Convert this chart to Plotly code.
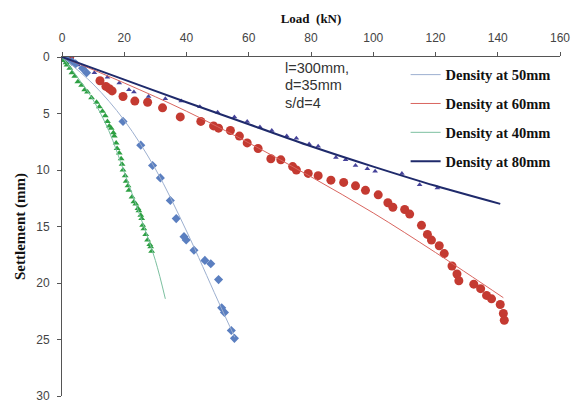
import plotly.graph_objects as go

# ---- measured points: load (kN) vs settlement (mm) ----
load_50 = [0.6, 1.9, 3.2, 4.4, 6.6, 7.9, 19.6, 25.3, 29.1, 31.6, 34.8, 36.7, 39.2, 39.9,
           42.4, 45.9, 47.8, 50.3, 51.3, 52.2, 54.4, 55.4]
sett_50 = [0.1, 0.3, 0.4, 0.6, 1.0, 1.4, 5.7, 7.8, 9.6, 10.7, 12.7, 14.3, 15.9, 16.2,
           17.1, 18.0, 18.3, 19.7, 22.2, 22.6, 24.2, 24.9]

load_60 = [0.0, 1.3, 2.5, 12.2, 14.1, 15.2, 16.1, 19.6, 23.4, 27.5, 32.3, 38.0, 44.6, 48.7,
           50.3, 54.1, 57.0, 59.5, 63.0, 67.1, 70.3, 74.1, 75.3, 79.1, 82.3, 86.4, 90.5,
           94.3, 97.5, 101.6, 104.7, 106.3, 110.1, 111.7, 115.5, 117.4, 118.7, 121.2, 122.8,
           125.3, 126.9, 127.5, 132.3, 134.5, 136.4, 138.0, 140.8, 141.8, 142.1]
sett_60 = [0.0, 0.0, 0.0, 2.1, 2.6, 2.8, 3.0, 3.5, 3.9, 4.0, 4.5, 5.3, 5.7, 6.1,
           6.3, 6.5, 7.0, 7.6, 8.1, 9.0, 9.1, 9.7, 10.0, 10.3, 10.5, 10.9, 11.1,
           11.4, 11.8, 12.2, 12.9, 13.3, 13.5, 13.9, 14.9, 15.7, 16.2, 16.7, 17.4,
           18.5, 19.2, 19.8, 20.1, 20.5, 21.1, 21.4, 21.9, 22.7, 23.3]

load_40 = [0.0, 0.6, 1.3, 1.6, 2.5, 3.2, 4.1, 5.1, 6.3, 7.3, 8.2, 9.5, 11.1, 12.0, 13.0,
           13.9, 14.6, 15.2, 15.8, 16.5, 16.8, 17.4, 17.7, 18.4, 19.0, 19.3, 19.6, 20.3,
           20.6, 21.2, 21.5, 22.5, 23.1, 23.7, 24.4, 24.7, 25.3, 25.6, 25.9, 26.3, 26.9,
           27.5, 28.2, 28.5, 28.8]
sett_40 = [0.0, 0.3, 0.5, 0.7, 1.0, 1.4, 1.7, 2.2, 2.5, 2.9, 3.1, 3.6, 4.0, 4.4, 4.8,
           5.2, 5.7, 6.1, 6.3, 6.7, 7.0, 7.6, 8.1, 8.5, 9.0, 9.5, 10.0, 10.5,
           11.0, 11.4, 11.8, 12.4, 12.8, 13.0, 13.4, 13.6, 14.0, 14.3, 14.9, 15.2, 15.7,
           16.2, 16.6, 16.8, 17.2]

load_80 = [0.0, 1.3, 3.2, 5.1, 6.6, 10.4, 14.6, 18.4, 21.5, 23.1, 27.8, 33.2, 38.3, 44.3,
           50.0, 55.4, 59.5, 63.6, 67.4, 72.2, 75.3, 79.4, 82.3, 88.0, 91.1, 94.3, 98.1,
           100.6, 109.2, 114.9, 120.6]
sett_80 = [0.0, 0.2, 0.4, 0.7, 1.0, 1.4, 1.8, 2.3, 2.9, 3.1, 3.5, 3.7, 3.9, 4.4,
           4.9, 5.3, 5.7, 6.2, 6.5, 7.0, 7.2, 7.7, 7.9, 8.9, 9.1, 9.6, 9.9,
           10.1, 10.3, 11.3, 11.6]

# ---- fitted trend curves ----
fit_load_50 = [0, 10, 20, 30, 40, 50, 55.5]
fit_sett_50 = [0, 2.4, 5.6, 9.9, 15.4, 21.5, 24.8]

fit_load_60 = [0, 20, 40, 60, 80, 100, 120, 141.8]
fit_sett_60 = [0, 2.3, 4.8, 7.6, 10.6, 13.8, 17.3, 21.3]

fit_load_40 = [0, 5, 10, 15, 20, 25, 30, 33.2]
fit_sett_40 = [0, 1.8, 3.8, 6.5, 10.2, 14.0, 18.0, 21.4]

fit_load_80 = [0, 20, 40, 60, 80, 100, 120, 140.8]
fit_sett_80 = [0, 2.0, 4.0, 5.95, 7.9, 9.7, 11.4, 13.0]

x_ticks = [0, 20, 40, 60, 80, 100, 120, 140, 160]
y_ticks = [0, 5, 10, 15, 20, 25, 30]

fig = go.Figure()

# measured points (not in legend)
fig.add_trace(go.Scatter(x=load_60, y=sett_60, mode="markers", showlegend=False,
                         marker=dict(symbol="circle", size=9, color="#C43A31")))
fig.add_trace(go.Scatter(x=load_80, y=sett_80, mode="markers", showlegend=False,
                         marker=dict(symbol="triangle-up", size=5, color="#46439A")))
fig.add_trace(go.Scatter(x=load_50, y=sett_50, mode="markers", showlegend=False,
                         marker=dict(symbol="diamond", size=7, color="#5B7FC0")))
fig.add_trace(go.Scatter(x=load_40, y=sett_40, mode="markers", showlegend=False,
                         marker=dict(symbol="triangle-up", size=6, color="#2EA043")))

# trend curves (legend entries)
fig.add_trace(go.Scatter(x=fit_load_50, y=fit_sett_50, mode="lines", name="Density at 50mm",
                         legendgroup="g1", line=dict(color="#9DB0D0", width=1, shape="spline")))
fig.add_trace(go.Scatter(x=fit_load_60, y=fit_sett_60, mode="lines", name="Density at 60mm",
                         legendgroup="g2", line=dict(color="#D9655F", width=1, shape="spline")))
fig.add_trace(go.Scatter(x=fit_load_40, y=fit_sett_40, mode="lines", name="Density at 40mm",
                         legendgroup="g3", line=dict(color="#7CC0A0", width=1, shape="spline")))
fig.add_trace(go.Scatter(x=fit_load_80, y=fit_sett_80, mode="lines", name="Density at 80mm",
                         legendgroup="g4", line=dict(color="#1F2A6B", width=2, shape="spline")))

# pile parameters
for txt, yy in [("l=300mm,", 0.95), ("d=35mm", 2.5), ("s/d=4", 4.05)]:
    fig.add_annotation(x=71, y=yy, xref="x", yref="y", text=txt, showarrow=False,
                       xanchor="left", yanchor="middle",
                       font=dict(family="Liberation Sans", size=14.5, color="#333333"))

fig.update_layout(
    width=582, height=415,
    margin=dict(l=62, r=16, t=57, b=13),
    paper_bgcolor="white", plot_bgcolor="white",
    font=dict(family="Liberation Sans", size=12, color="#444444"),
    legend=dict(x=0.69, y=0.995, xanchor="left", yanchor="top",
                traceorder="grouped", tracegroupgap=7,
                bgcolor="rgba(0,0,0,0)",
                font=dict(family="Liberation Serif", size=14.5, color="#111111", weight="bold")),
    xaxis=dict(range=[0, 160], side="top", tickvals=x_ticks, showgrid=False, zeroline=False,
               showline=True, linecolor="#555555", linewidth=1, ticks="outside", ticklen=4,
               tickcolor="#555555", ticklabelstandoff=5,
               title=dict(text="Load  (kN)", standoff=4,
                          font=dict(family="Liberation Serif", size=13, color="#111111",
                                    weight="bold"))),
    yaxis=dict(range=[30, 0], tickvals=y_ticks, showgrid=False, zeroline=False,
               showline=True, linecolor="#555555", linewidth=1, ticks="outside", ticklen=4,
               tickcolor="#555555", ticklabelstandoff=5,
               title=dict(text="Settlement (mm)", standoff=6,
                          font=dict(family="Liberation Serif", size=15, color="#111111",
                                    weight="bold"))),
)

fig.write_html("out.html")
